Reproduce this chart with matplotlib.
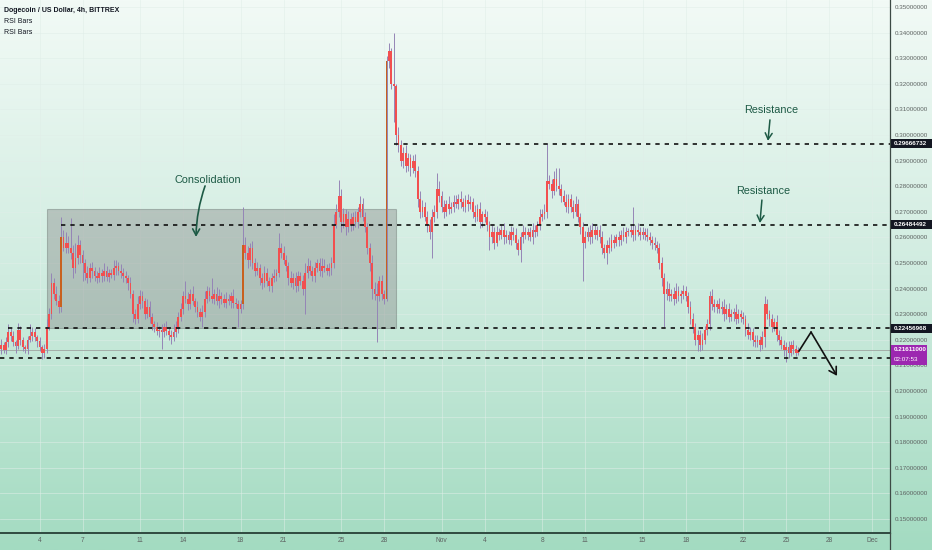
import numpy as np
import pandas as pd
import matplotlib
matplotlib.use("Agg")
import matplotlib.pyplot as plt
import matplotlib.dates as mdates
from matplotlib.colors import LinearSegmentedColormap
from matplotlib.lines import Line2D
from matplotlib.patches import Rectangle

plt.rcParams['font.family'] = ['Liberation Sans', 'DejaVu Sans']

# DOGE/USD 4h candles, Oct 1 - Nov 25 2021, one row per day (6 candles), price x 1e-4
closes_by_day = [
    [2120, 2165, 2180, 2160, 2190, 2230],
    [2215, 2190, 2175, 2240, 2200, 2170],
    [2165, 2200, 2215, 2230, 2210, 2195],
    [2170, 2150, 2165, 2250, 2300, 2420],
    [2380, 2350, 2330, 2600, 2560, 2580],
    [2560, 2540, 2480, 2520, 2570, 2530],
    [2500, 2460, 2440, 2480, 2470, 2450],
    [2440, 2460, 2450, 2470, 2445, 2460],
    [2455, 2480, 2490, 2470, 2460, 2450],
    [2440, 2420, 2380, 2300, 2280, 2340],
    [2370, 2350, 2300, 2330, 2290, 2260],
    [2250, 2235, 2240, 2230, 2250, 2235],
    [2220, 2210, 2230, 2250, 2290, 2320],
    [2370, 2360, 2340, 2380, 2350, 2330],
    [2310, 2290, 2310, 2360, 2390, 2370],
    [2360, 2380, 2350, 2370, 2360, 2345],
    [2360, 2350, 2370, 2345, 2340, 2320],
    [2340, 2570, 2540, 2510, 2560, 2500],
    [2470, 2480, 2440, 2420, 2460, 2430],
    [2410, 2440, 2450, 2460, 2560, 2540],
    [2510, 2490, 2440, 2420, 2440, 2410],
    [2450, 2430, 2400, 2460, 2490, 2470],
    [2450, 2480, 2500, 2470, 2490, 2480],
    [2470, 2480, 2500, 2650, 2700, 2760],
    [2660, 2690, 2640, 2670, 2650, 2680],
    [2660, 2700, 2730, 2680, 2640, 2560],
    [2500, 2400, 2380, 2370, 2430, 2380],
    [2360, 3290, 3330, 3200, 3190, 3000],
    [2960, 2900, 2930, 2880, 2910, 2870],
    [2900, 2860, 2750, 2700, 2720, 2680],
    [2650, 2620, 2680, 2700, 2790, 2760],
    [2720, 2700, 2730, 2710, 2720, 2740],
    [2730, 2750, 2740, 2720, 2745, 2730],
    [2740, 2700, 2680, 2710, 2660, 2690],
    [2680, 2650, 2600, 2620, 2580, 2620],
    [2610, 2630, 2600, 2610, 2590, 2620],
    [2610, 2580, 2550, 2600, 2620, 2610],
    [2620, 2600, 2630, 2620, 2650, 2680],
    [2690, 2700, 2820, 2810, 2780, 2830],
    [2800, 2790, 2760, 2740, 2720, 2750],
    [2720, 2700, 2730, 2680, 2640, 2580],
    [2600, 2620, 2600, 2630, 2610, 2630],
    [2600, 2560, 2540, 2570, 2560, 2590],
    [2580, 2600, 2590, 2610, 2600, 2620],
    [2620, 2630, 2610, 2630, 2620, 2610],
    [2620, 2610, 2600, 2590, 2580, 2570],
    [2560, 2500, 2440, 2380, 2400, 2370],
    [2380, 2360, 2390, 2370, 2380, 2390],
    [2370, 2330, 2280, 2250, 2200, 2220],
    [2180, 2200, 2240, 2260, 2370, 2340],
    [2330, 2340, 2320, 2330, 2300, 2320],
    [2290, 2300, 2310, 2280, 2300, 2290],
    [2280, 2240, 2220, 2230, 2200, 2190],
    [2200, 2180, 2210, 2340, 2300, 2280],
    [2250, 2270, 2220, 2200, 2180, 2160],
    [2170, 2150, 2180, 2165, 2150, 2161],
]
first_open = 2150

# upper / lower wick lengths above / below the body, x 1e-4
wick_up_by_day = [
    [20, 15, 25, 10, 20, 30], [15, 20, 10, 25, 15, 10], [10, 15, 45, 20, 15, 10],
    [15, 10, 20, 30, 25, 40], [20, 30, 25, 80, 30, 40], [25, 115, 30, 60, 40, 20],
    [20, 15, 30, 20, 25, 15], [20, 25, 15, 30, 20, 15], [15, 30, 20, 15, 25, 20],
    [20, 15, 25, 15, 20, 30], [25, 20, 15, 30, 20, 15], [15, 20, 15, 20, 15, 25],
    [15, 20, 30, 25, 20, 25], [20, 60, 25, 20, 30, 15], [20, 15, 25, 30, 20, 15],
    [70, 20, 25, 30, 15, 20], [25, 20, 15, 30, 20, 15], [15, 150, 30, 25, 20, 25],
    [20, 25, 15, 20, 30, 20], [15, 20, 25, 15, 57, 20], [25, 20, 15, 30, 20, 25],
    [20, 15, 25, 40, 30, 20], [20, 25, 15, 20, 30, 25], [15, 20, 25, 40, 30, 64],
    [30, 25, 20, 35, 25, 20], [25, 20, 30, 25, 20, 15], [20, 30, 25, 40, 20, 25],
    [15, 20, 30, 10, 200, 10], [30, 20, 25, 30, 20, 15], [20, 25, 20, 30, 25, 20],
    [25, 20, 30, 25, 60, 30], [20, 25, 15, 30, 20, 25], [25, 20, 30, 15, 20, 25],
    [20, 15, 25, 20, 30, 15], [20, 25, 15, 30, 20, 25], [15, 20, 25, 20, 15, 25],
    [20, 25, 15, 20, 30, 20], [15, 20, 25, 20, 15, 30], [20, 30, 150, 25, 20, 30],
    [40, 70, 20, 25, 30, 20], [20, 25, 30, 20, 15, 20], [25, 20, 30, 25, 20, 15],
    [20, 25, 15, 20, 30, 25], [20, 15, 25, 20, 30, 20], [15, 20, 90, 20, 25, 20],
    [20, 15, 25, 20, 15, 20], [15, 20, 25, 20, 30, 20], [20, 25, 30, 20, 15, 25],
    [20, 15, 20, 25, 15, 20], [20, 25, 15, 20, 20, 30], [20, 15, 25, 20, 30, 20],
    [25, 20, 15, 30, 20, 15], [20, 15, 25, 20, 15, 20], [20, 15, 25, 30, 20, 15],
    [20, 15, 25, 20, 15, 20], [20, 25, 15, 20, 15, 10],
]
wick_dn_by_day = [
    [65, 15, 20, 10, 15, 20], [20, 15, 25, 10, 20, 15], [15, 20, 10, 20, 15, 25],
    [15, 25, 20, 15, 10, 20], [20, 15, 25, 20, 15, 20], [20, 25, 40, 20, 25, 30],
    [70, 25, 20, 15, 30, 20], [20, 15, 25, 20, 15, 20], [15, 20, 25, 15, 20, 25],
    [20, 25, 15, 30, 20, 15], [20, 25, 20, 15, 25, 20], [20, 15, 25, 65, 20, 15],
    [20, 25, 15, 20, 25, 15], [20, 15, 25, 20, 15, 20], [20, 15, 40, 20, 15, 20],
    [15, 20, 15, 25, 20, 15], [20, 15, 25, 20, 15, 70], [15, 20, 25, 30, 20, 25],
    [20, 15, 25, 20, 15, 20], [20, 25, 15, 20, 15, 20], [15, 20, 25, 15, 20, 25],
    [20, 15, 25, 100, 20, 15], [20, 25, 15, 20, 25, 15], [15, 20, 25, 20, 15, 20],
    [40, 25, 30, 20, 25, 20], [20, 25, 20, 15, 20, 25], [30, 40, 25, 180, 20, 25],
    [20, 10, 30, 20, 140, 40], [25, 20, 30, 25, 20, 30], [20, 25, 30, 25, 20, 15],
    [30, 25, 100, 20, 25, 20], [20, 25, 15, 20, 15, 20], [15, 20, 25, 15, 20, 25],
    [20, 25, 20, 15, 25, 20], [20, 25, 50, 20, 25, 15], [20, 15, 25, 20, 15, 20],
    [20, 25, 20, 45, 20, 15], [20, 15, 25, 20, 15, 20], [15, 20, 25, 20, 25, 15],
    [20, 25, 20, 15, 20, 25], [20, 25, 15, 20, 25, 150], [20, 15, 25, 20, 15, 20],
    [20, 25, 20, 45, 20, 15], [20, 15, 25, 20, 15, 20], [15, 20, 25, 20, 15, 20],
    [15, 20, 15, 20, 25, 20], [20, 25, 30, 130, 25, 20], [20, 25, 15, 20, 25, 20],
    [20, 25, 20, 25, 20, 45], [25, 20, 15, 20, 20, 25], [20, 25, 15, 20, 25, 20],
    [20, 15, 25, 20, 15, 20], [20, 25, 15, 20, 25, 20], [20, 25, 15, 40, 20, 25],
    [20, 15, 25, 20, 15, 25], [45, 20, 15, 20, 15, 10],
]

tick_days = ["2021-10-04", "2021-10-07", "2021-10-11", "2021-10-14", "2021-10-18",
             "2021-10-21", "2021-10-25", "2021-10-28", "2021-11-01", "2021-11-04",
             "2021-11-08", "2021-11-11", "2021-11-15", "2021-11-18", "2021-11-22",
             "2021-11-25", "2021-11-28", "2021-12-01"]
tick_labels = ["4", "7", "11", "14", "18", "21", "25", "28", "Nov", "4",
               "8", "11", "15", "18", "22", "25", "28", "Dec"]

levels = [0.29666732, 0.26484492, 0.22456968]
level_start_day = [27.7, 4.5, 0.8]
lower_support = 0.2130
box_low, box_high = 0.22456968, 0.27109
last_price = 0.21611
countdown = "02:07:53"

# ---- build candles
closes = np.array(closes_by_day, dtype=float).ravel() / 1e4
opens = np.r_[first_open / 1e4, closes[:-1]]
highs = np.maximum(opens, closes) + np.ravel(wick_up_by_day) / 1e4
lows = np.minimum(opens, closes) - np.ravel(wick_dn_by_day) / 1e4
times = pd.date_range("2021-10-01", periods=len(closes), freq="4h")
t = mdates.date2num(times.to_pydatetime())
t0 = mdates.date2num(pd.Timestamp("2021-10-01").to_pydatetime())

W, H = 932, 550
fig = plt.figure(figsize=(W / 100, H / 100), dpi=100)

# gradient background
bg = fig.add_axes([0, 0, 1, 1])
cmap = LinearSegmentedColormap.from_list("bg", ["#f2faf6", "#d0ece0", "#a3dbc1"])
bg.imshow(np.linspace(0, 1, 256).reshape(-1, 1), cmap=cmap, aspect="auto",
          extent=[0, 1, 0, 1])
bg.set_axis_off()

ax = fig.add_axes([0, 17.5 / H, 890 / W, 532.5 / H])
ax.patch.set_visible(False)
xmin, xmax = t0 + 0.249, t0 + 62.23
ax.set_xlim(xmin, xmax)
ax.set_ylim(0.144727, 0.352734)

ax.set_yticks(np.arange(0.15, 0.3501, 0.01))
ax.set_yticklabels([f"{v:.8f}" for v in np.arange(0.15, 0.3501, 0.01)])
ax.yaxis.tick_right()
ax.tick_params(axis="y", length=0, pad=3.5, labelsize=4.5, labelcolor="#5d6361")
ax.set_xticks([mdates.date2num(pd.Timestamp(d).to_pydatetime()) for d in tick_days])
ax.set_xticklabels(tick_labels)
ax.tick_params(axis="x", length=0, pad=3, labelsize=4.8, labelcolor="#5d6361")
ax.grid(True, color="#e0eee8", lw=0.6, alpha=0.6)
ax.set_axisbelow(True)
for s in ["top", "left"]:
    ax.spines[s].set_visible(False)
ax.spines["right"].set_color("#3d4a45")
ax.spines["right"].set_linewidth(0.9)
ax.spines["bottom"].set_color("#2f4a40")
ax.spines["bottom"].set_linewidth(1.4)
fig.add_artist(Line2D([890 / W, 890 / W], [0, 17.5 / H], color="#3d4a45", lw=0.9))

# consolidation box
ax.add_patch(Rectangle((t0 + 3.5, box_low), 24.3, box_high - box_low,
                       facecolor="#7f7f7f", alpha=0.38, edgecolor="#5f6663",
                       lw=0.8, zorder=2))

# candles
body = closes - opens
body = np.where(np.abs(body) < 0.0004, 0.0004, body)
colors = np.where(closes - opens > 0.02, "#c8611e", "#f24f4f")
ax.vlines(t, lows, highs, color="#9585b6", lw=0.7, zorder=3)
ax.bar(t, body, bottom=opens, width=0.125, color=colors, lw=0, zorder=4)

# levels
dash = (0, (2.6, 3.0))
for lv, sd in zip(levels, level_start_day):
    ax.hlines(lv, t0 + sd, xmax, colors="#111111", linestyles=dash, lw=1.2, zorder=5)
ax.hlines(lower_support, xmin, xmax, colors="#111111", linestyles=dash, lw=1.2, zorder=5)
ax.axhline(last_price, color="#9ea3a1", lw=0.6, zorder=2)

# price labels on the axis
yt = ax.get_yaxis_transform()
px = 0.000390625
for lv in levels:
    ax.add_patch(Rectangle((1.0007, lv - 4.5 * px), 0.047, 9 * px, transform=yt,
                           facecolor="#131722", lw=0, clip_on=False, zorder=6))
    ax.text(1.0045, lv, f"{lv:.8f}", transform=yt, ha="left", va="center",
            fontsize=4.5, color="white", fontweight="bold", zorder=7, clip_on=False)
ax.add_patch(Rectangle((1.0007, last_price - 15.5 * px), 0.041, 20.5 * px, transform=yt,
                       facecolor="#9c27b0", lw=0, clip_on=False, zorder=6))
ax.text(1.0045, last_price, f"{last_price:.8f}", transform=yt, ha="left", va="center",
        fontsize=4.5, color="white", fontweight="bold", zorder=7, clip_on=False)
ax.text(1.0045, last_price - 9.5 * px, countdown, transform=yt, ha="left", va="center",
        fontsize=4.5, color="white", zorder=7, clip_on=False)

# annotations
green = "#1d5a45"
ax.text(t0 + 14.74, 0.2826, "Consolidation", ha="center", va="center", fontsize=7.8,
        color=green, zorder=8)
ax.annotate("", xy=(t0 + 13.90, 0.2602), xytext=(t0 + 14.53, 0.2801),
            arrowprops=dict(arrowstyle="->,head_length=0.45,head_width=0.25", color=green,
                            lw=1.2, connectionstyle="arc3,rad=0.08",
                            shrinkA=0, shrinkB=0), zorder=8)
ax.text(t0 + 53.94, 0.3098, "Resistance", ha="center", va="center", fontsize=7.8,
        color=green, zorder=8)
ax.annotate("", xy=(t0 + 53.73, 0.2977), xytext=(t0 + 53.87, 0.3059),
            arrowprops=dict(arrowstyle="->,head_length=0.45,head_width=0.25", color=green,
                            lw=1.1, shrinkA=0, shrinkB=0), zorder=8)
ax.text(t0 + 53.38, 0.2781, "Resistance", ha="center", va="center", fontsize=7.8,
        color=green, zorder=8)
ax.annotate("", xy=(t0 + 53.17, 0.2656), xytext=(t0 + 53.31, 0.2746),
            arrowprops=dict(arrowstyle="->,head_length=0.45,head_width=0.25", color=green,
                            lw=1.1, shrinkA=0, shrinkB=0), zorder=8)

# projected path
ax.plot([t0 + 55.89, t0 + 56.73], [0.2156, 0.2230], color="#111111", lw=1.2, zorder=8)
ax.annotate("", xy=(t0 + 58.54, 0.2059), xytext=(t0 + 56.73, 0.2230),
            arrowprops=dict(arrowstyle="->,head_length=0.5,head_width=0.3", color="#111111",
                            lw=1.2, shrinkA=0, shrinkB=0), zorder=8)

# header
fig.text(4 / W, 1 - 10 / H, "Dogecoin / US Dollar, 4h, BITTREX", fontsize=5.0,
         fontweight="bold", color="#131722", va="center")
fig.text(4 / W, 1 - 21.5 / H, "RSI Bars", fontsize=5.0, color="#131722", va="center")
fig.text(4 / W, 1 - 33 / H, "RSI Bars", fontsize=5.0, color="#131722", va="center")

fig.savefig("out.png", dpi=100)
